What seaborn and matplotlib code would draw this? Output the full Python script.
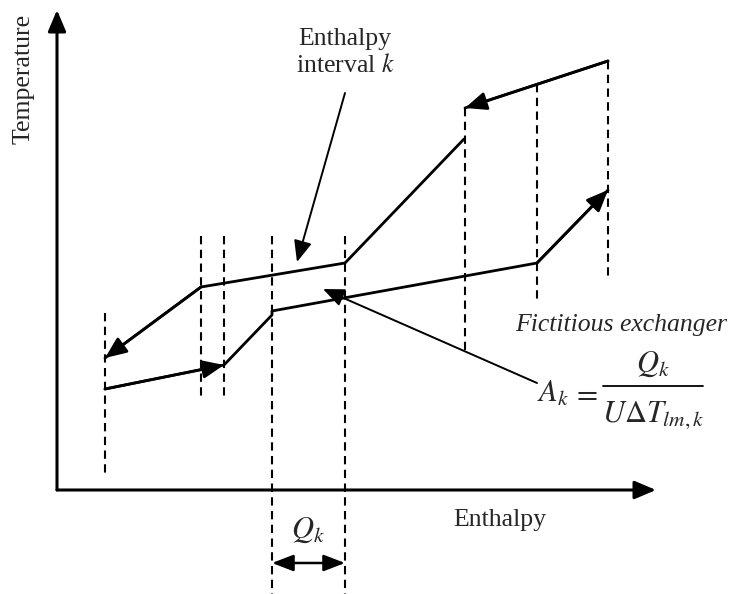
import numpy as np
import pandas as pd
import matplotlib
matplotlib.use("Agg")
import matplotlib.pyplot as plt
import seaborn as sns

sns.set_theme(style="white")
plt.rcParams["font.family"] = ["Liberation Serif", "DejaVu Serif"]
plt.rcParams["mathtext.fontset"] = "stix"

# ---- schematic data (arbitrary enthalpy / temperature units) ----
hot1_H = [551, 408]
hot1_T = [429, 382]
hot2_H = [407, 288, 144, 48]
hot2_T = [351, 227, 203, 132]
cold_H = [48, 167, 215, 215, 480, 551]
cold_T = [101, 125, 175, 179, 227, 300]

interval_H = [48, 144, 167, 215, 288, 408, 480, 551]
interval_top = [177, 254, 254, 254, 254, 382, 406, 429]
interval_bot = [15, 93, 93, -104, -104, 140, 187, 213]

axis_origin = (0, 0)
axis_H_end = 599
axis_T_end = 480

interval_arrow = [(288, 397), (240, 228)]
fict_arrow = [(480, 107), (266, 201)]
qk_arrow_T = -73

fig = plt.figure(figsize=(7.36, 5.94), dpi=100)
ax = fig.add_axes([0, 0, 1, 1])
ax.set_xlim(-57, 679)
ax.set_ylim(-104, 490)
ax.set_axis_off()

# dashed interval boundaries
dash_df = pd.DataFrame({
    "H": np.repeat(interval_H, 2),
    "T": np.ravel(np.column_stack([interval_top, interval_bot])),
    "seg": np.repeat(np.arange(len(interval_H)), 2),
})
sns.lineplot(data=dash_df, x="H", y="T", units="seg", estimator=None, sort=False,
             color="black", lw=1.5, ax=ax, legend=False)
for ln in ax.get_lines():
    ln.set_dashes((4, 2.6))

# streams
stream_df = pd.concat([
    pd.DataFrame({"H": hot1_H, "T": hot1_T, "seg": "h1"}),
    pd.DataFrame({"H": hot2_H, "T": hot2_T, "seg": "h2"}),
    pd.DataFrame({"H": cold_H, "T": cold_T, "seg": "c"}),
])
sns.lineplot(data=stream_df, x="H", y="T", units="seg", estimator=None, sort=False,
             color="black", lw=2.0, ax=ax, legend=False)

HEAD = "-|>,head_length=1.3,head_width=0.55"

def head(p_from, p_to, lw=2.0):
    ax.annotate("", xy=p_to, xytext=p_from,
                arrowprops=dict(arrowstyle=HEAD, color="black", lw=lw,
                                shrinkA=0, shrinkB=0, mutation_scale=10))

head((hot1_H[-2], hot1_T[-2]), (hot1_H[-1], hot1_T[-1]))
head((hot2_H[-2], hot2_T[-2]), (hot2_H[-1], hot2_T[-1]))
head((cold_H[0], cold_T[0]), (cold_H[1], cold_T[1]))
head((cold_H[-2], cold_T[-2]), (cold_H[-1], cold_T[-1]))

# axes arrows
head(axis_origin, (axis_H_end, 0), lw=2.2)
head(axis_origin, (0, axis_T_end), lw=2.2)

# annotation arrows
head(interval_arrow[0], interval_arrow[1], lw=1.4)
head(fict_arrow[0], fict_arrow[1], lw=1.4)
ax.annotate("", xy=(interval_H[4], qk_arrow_T), xytext=(interval_H[3], qk_arrow_T),
            arrowprops=dict(arrowstyle="<|-|>,head_length=1.3,head_width=0.5",
                            color="black", lw=1.8, shrinkA=0, shrinkB=0,
                            mutation_scale=10))

fs = 18.5
ax.text(-33, 411, "Temperature", rotation=90, ha="center", va="center", fontsize=fs)
ax.text(288, 451, "Enthalpy", ha="center", va="center", fontsize=fs)
ax.text(288, 424, "interval $k$", ha="center", va="center", fontsize=fs)
ax.text(443, -30, "Enthalpy", ha="center", va="center", fontsize=fs)
ax.text(251, -40, "$Q_k$", ha="center", va="center", fontsize=22)
ax.text(564, 165, "Fictitious exchanger", ha="center", va="center", fontsize=fs,
        style="italic")

# formula
ax.text(480, 88, "$A_k$", ha="left", va="baseline", fontsize=22)
ax.text(528, 96, "$=$", ha="center", va="center", fontsize=22)
ax.plot([546, 646], [104, 104], color="black", lw=1.3)
ax.text(596, 118, "$Q_k$", ha="center", va="baseline", fontsize=22)
ax.text(596, 68, r"$U\Delta T_{lm,k}$", ha="center", va="baseline", fontsize=22)

fig.savefig("out.png", dpi=100, facecolor="white")
